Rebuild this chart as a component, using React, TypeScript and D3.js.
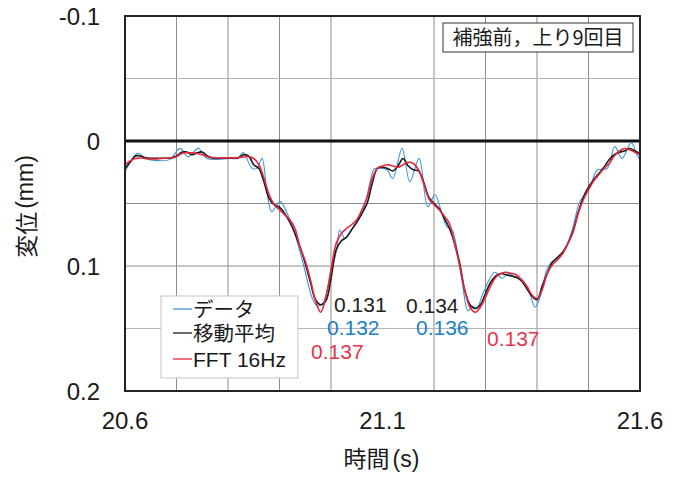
import React from "react";
import * as d3 from "d3";

// ---- data (time in s, displacement in mm; positive = downward) ----
const avgT = d3.range(0, 101).map((i) => +(20.6 + i * 0.01).toFixed(2));
const fftV = [
  0.019, 0.016, 0.014, 0.0136, 0.014, 0.0144, 0.0144, 0.014, 0.0138, 0.0136,
  0.0125, 0.01, 0.0094, 0.0095, 0.01, 0.011, 0.0125, 0.0134, 0.0136, 0.0136,
  0.0136, 0.0135, 0.0133, 0.0128, 0.0125, 0.014, 0.019, 0.03, 0.043, 0.051,
  0.055, 0.059, 0.063, 0.07, 0.085, 0.096, 0.111, 0.128, 0.137, 0.125,
  0.103, 0.082, 0.074, 0.07, 0.067, 0.063, 0.055, 0.045, 0.03, 0.022,
  0.02, 0.019, 0.02, 0.021, 0.019, 0.017, 0.018, 0.023, 0.034, 0.046,
  0.051, 0.055, 0.06, 0.066, 0.082, 0.1, 0.12, 0.133, 0.137, 0.133,
  0.125, 0.116, 0.109, 0.106, 0.105, 0.106, 0.107, 0.111, 0.116, 0.123,
  0.126, 0.119, 0.106, 0.099, 0.095, 0.09, 0.082, 0.073, 0.058, 0.047,
  0.039, 0.032, 0.027, 0.022, 0.018, 0.012, 0.008, 0.006, 0.007, 0.009,
  0.011,
];
const avgV = [
  0.022, 0.017, 0.012, 0.012, 0.0135, 0.0138, 0.0138, 0.0138, 0.0138, 0.0135,
  0.012, 0.009, 0.0088, 0.011, 0.0095, 0.0088, 0.012, 0.0135, 0.0138, 0.0138,
  0.0138, 0.0136, 0.0135, 0.011, 0.012, 0.019, 0.022, 0.033, 0.046, 0.051,
  0.053, 0.058, 0.065, 0.074, 0.085, 0.098, 0.113, 0.127, 0.131, 0.128,
  0.11, 0.087, 0.08, 0.077, 0.071, 0.065, 0.058, 0.05, 0.034, 0.022,
  0.021, 0.022, 0.024, 0.02, 0.014, 0.02, 0.023, 0.024, 0.033, 0.045,
  0.05, 0.054, 0.062, 0.07, 0.082, 0.098, 0.12, 0.131, 0.134, 0.131,
  0.122, 0.113, 0.108, 0.106, 0.107, 0.108, 0.109, 0.112, 0.118, 0.124,
  0.127, 0.116, 0.106, 0.097, 0.093, 0.089, 0.082, 0.072, 0.057, 0.045,
  0.037, 0.031, 0.026, 0.021, 0.015, 0.011, 0.009, 0.008, 0.006, 0.008,
  0.01,
];
const rawT = [
  20.6, 20.625, 20.639, 20.662, 20.687, 20.707, 20.722, 20.742, 20.759, 20.804,
  20.819, 20.829, 20.847, 20.856, 20.866, 20.876, 20.885, 20.901, 20.915, 20.926,
  20.946, 20.963, 20.973, 20.984, 20.998, 21.012, 21.017, 21.027, 21.043, 21.062,
  21.08, 21.085, 21.101, 21.109, 21.12, 21.138, 21.153, 21.171, 21.188, 21.202,
  21.216, 21.225, 21.235, 21.241, 21.254, 21.266, 21.274, 21.283, 21.295, 21.318,
  21.332, 21.344, 21.357, 21.371, 21.386, 21.396, 21.406, 21.419, 21.429, 21.439,
  21.458, 21.47, 21.483, 21.493, 21.503, 21.517, 21.536, 21.551, 21.565, 21.583,
  21.594, 21.6,
];
const rawV = [
  0.0245, 0.0099, 0.0139, 0.0157, 0.0147, 0.0059, 0.0125, 0.0059, 0.0139, 0.0139,
  0.0139, 0.0093, 0.0219, 0.0219, 0.0139, 0.042, 0.0565, 0.0485, 0.058, 0.069,
  0.098, 0.125, 0.132, 0.13, 0.109, 0.085, 0.0712, 0.078, 0.069, 0.056,
  0.026, 0.022, 0.022, 0.023, 0.03, 0.0059, 0.0325, 0.0139, 0.0525, 0.043,
  0.059, 0.0685, 0.071, 0.079, 0.111, 0.136, 0.132, 0.134, 0.122, 0.105,
  0.11, 0.106, 0.109, 0.111, 0.122, 0.133, 0.125, 0.103, 0.0965, 0.094,
  0.083, 0.0685, 0.0485, 0.043, 0.037, 0.0232, 0.022, 0.0045, 0.0139, 0.0013,
  0.011, 0.0152,
];

const xTicks = [20.6, 21.1, 21.6];
const xTickLabels = ["20.6", "21.1", "21.6"];
const xGrid = [20.7, 20.8, 20.9, 21.0, 21.2, 21.3, 21.4, 21.5];
const yTicks = [-0.1, 0, 0.1, 0.2];
const yTickLabels = ["-0.1", "0", "0.1", "0.2"];
const yGrid = [-0.05, 0.05, 0.1, 0.15];

const seriesNames = ["データ", "移動平均", "FFT 16Hz"];
const seriesColors = ["#3d98d8", "#1a1a1a", "#e8253d"];

// peak annotations: text, series index, anchor time, anchor value
const annTexts = ["0.131", "0.132", "0.137", "0.134", "0.136", "0.137"];
const annSeries = [1, 0, 2, 1, 0, 2];
const annT = [21.006, 20.9922, 20.9612, 21.1456, 21.165, 21.3029];
const annV = [0.1368, 0.1552, 0.1744, 0.1376, 0.1552, 0.164];
const annColors = ["#1a80c8", "#222222", "#e8334a"];

const title = "補強前，上り9回目";
const xTitle = "時間";
const yTitle = "変位";

const W = 683;
const H = 479;
const left = 125, right = 640, top = 16, bottom = 391;

const NUM = "'Liberation Sans', Arial, Helvetica, 'Noto Sans CJK JP', sans-serif";
const CJK = "'Noto Sans CJK JP', 'Noto Sans', sans-serif";

export default function App() {
  const x = d3.scaleLinear().domain([20.6, 21.6]).range([left, right]);
  const y = d3.scaleLinear().domain([-0.1, 0.2]).range([top, bottom]);

  const line = d3
    .line<[number, number]>()
    .x((d) => x(d[0]))
    .y((d) => y(d[1]))
    .curve(d3.curveCatmullRom.alpha(0.5));

  const rawPath = line(rawT.map((t, i) => [t, rawV[i]]) as [number, number][]) || "";
  const avgPath = line(avgT.map((t, i) => [t, avgV[i]]) as [number, number][]) || "";
  const fftPath = line(avgT.map((t, i) => [t, fftV[i]]) as [number, number][]) || "";

  const legX = 161, legY = 296, legW = 137, legH = 82;
  const legRows = [legY + 13, legY + 37, legY + 63];

  return (
    <svg
      width={W}
      height={H}
      style={{ position: "fixed", left: 0, top: 0, background: "#fff" }}
    >
      <rect x={0} y={0} width={W} height={H} fill="#fff" />
      <defs>
        <clipPath id="plot">
          <rect x={left} y={top} width={right - left} height={bottom - top} />
        </clipPath>
      </defs>
      {/* grid */}
      {xGrid.map((g) => (
        <line key={"xg" + g} x1={x(g)} x2={x(g)} y1={top} y2={bottom} stroke="#8c8c8c" strokeWidth={1} />
      ))}
      {yGrid.map((g) => (
        <line key={"yg" + g} x1={left} x2={right} y1={y(g)} y2={y(g)} stroke={g === 0.05 || g === 0.1 ? "#8c8c8c" : "#b4b4b4"} strokeWidth={1} />
      ))}
      <line x1={left} x2={right} y1={y(0)} y2={y(0)} stroke="#111" strokeWidth={3} />

      {/* series */}
      <g clipPath="url(#plot)" fill="none" strokeLinejoin="round">
        <path d={rawPath} stroke={seriesColors[0]} strokeWidth={1.1} />
        <path d={avgPath} stroke={seriesColors[1]} strokeWidth={1.6} />
        <path d={fftPath} stroke={seriesColors[2]} strokeWidth={1.6} />
      </g>

      {/* frame */}
      <rect x={left} y={top} width={right - left} height={bottom - top} fill="none" stroke="#222" strokeWidth={2} />

      {/* annotations */}
      {annTexts.map((t, i) => (
        <text key={"a" + i} x={x(annT[i])} y={y(annV[i])} fill={annColors[annSeries[i]]} fontFamily={NUM} fontSize={21}>
          {t}
        </text>
      ))}

      {/* legend */}
      <rect x={legX} y={legY} width={legW} height={legH} fill="#fff" stroke="#c4c4c4" strokeWidth={1} />
      {seriesNames.map((n, i) => (
        <g key={"l" + i}>
          <line x1={legX + 12} x2={legX + 31} y1={legRows[i]} y2={legRows[i]} stroke={seriesColors[i]} strokeWidth={1.3} />
          <text x={legX + 32} y={legRows[i] + 7.5} fontFamily={NUM} fontSize={i === 2 ? 21 : 20.5} fill="#1a1a1a">
            {n}
          </text>
        </g>
      ))}

      {/* title box */}
      <rect x={443} y={23} width={190} height={29} fill="#fff" stroke="#333" strokeWidth={1} />
      <text x={538} y={45} textAnchor="middle" fontFamily={CJK} fontSize={20} fill="#1a1a1a">
        {title}
      </text>

      {/* y tick labels */}
      {yTicks.map((t, i) => (
        <text key={"yt" + i} x={100} y={y(t)} dy="0.36em" textAnchor="end" fontFamily={NUM} fontSize={24} fill="#1a1a1a">
          {yTickLabels[i]}
        </text>
      ))}
      {/* x tick labels */}
      {xTicks.map((t, i) => (
        <text key={"xt" + i} x={x(t)} y={429} textAnchor="middle" fontFamily={NUM} fontSize={24} fill="#1a1a1a">
          {xTickLabels[i]}
        </text>
      ))}

      {/* axis titles */}
      <text x={(left + right) / 2 - 1} y={467} textAnchor="middle" fontSize={23} fill="#1a1a1a" fontFamily={CJK}>
        {xTitle}
        <tspan dx={3} fontFamily={NUM}>(s)</tspan>
      </text>
      <text
        transform={`translate(25, ${(top + bottom) / 2 + 3}) rotate(-90)`}
        textAnchor="middle"
        dominantBaseline="central"
        fontSize={23}
        fill="#1a1a1a"
        fontFamily={CJK}
      >
        {yTitle}
        <tspan dx={3} fontFamily={NUM}>(mm)</tspan>
      </text>
    </svg>
  );
}
